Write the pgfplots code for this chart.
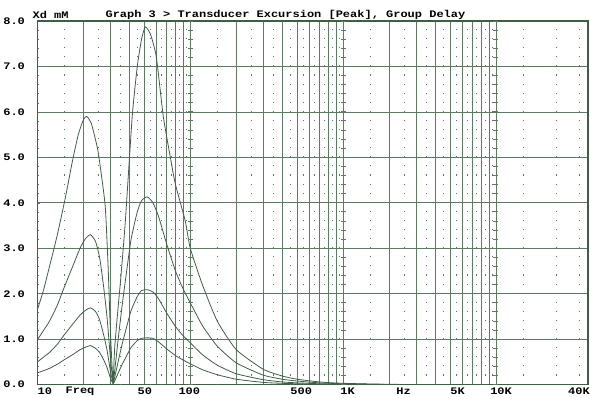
\documentclass[border=0pt]{standalone}
\usepackage{pgfplots}
\pgfplotsset{compat=1.18}
\usepackage{fontspec}
\newfontfamily\dm[FakeStretch=1.2]{Liberation Mono}
\definecolor{gridc}{HTML}{5E7A62}
\definecolor{curvec}{HTML}{3F5E46}
\definecolor{dotc}{HTML}{B8C0B8}
\begin{document}
\begin{tikzpicture}[font=\dm\bfseries\fontsize{10}{12}\selectfont]
\begin{axis}[
  name=ax,
  scale only axis,
  width=551pt, height=364pt,
  xmode=log,
  xmin=10, xmax=40000,
  ymin=0, ymax=8,
  xtick={10,100,1000,10000},
  xticklabels={},
  ytick={0,1,2,3,4,5,6,7,8},
  yticklabels={0.0,1.0,2.0,3.0,4.0,5.0,6.0,7.0,8.0},
  yticklabel style={font=\dm\bfseries\fontsize{10}{12}\selectfont, xshift=-9pt},
  minor y tick num=4,
  tick pos=left,
  tick align=inside,
  major tick length=3pt,
  minor tick length=2pt,
  tick style={gridc, line width=0.6pt},
  xmajorgrids=true, xminorgrids=true, ymajorgrids=true,
  major grid style={gridc, line width=0.8pt},
  minor grid style={gridc, line width=0.8pt},
  extra x ticks={15,25,35,45,55,65,75,85,95,150,250,350,450,550,650,750,850,950,1500,2500,3500,4500,5500,6500,7500,8500,9500,15000,25000,35000},
  extra x tick labels={},
  extra x tick style={grid style={dotc, line width=1.1pt, dash pattern=on 1.1pt off 8pt}, major tick length=0pt},
  axis line style={curvec, line width=1.3pt},
  clip=true,
]
\addplot[curvec, line width=0.8pt, smooth, tension=0.35] coordinates {
(10,1.65) (11,2.1) (12.2,2.7) (13.5,3.3) (15.2,4.1) (16.9,4.9) (18.5,5.5) (20,5.83) (21,5.9) (22.5,5.75) (24.7,5.2) (26,4.7) (27.8,3.9) (29,2.6) (30,1.2) (31.2,0.1) (32,0.8) (33.5,1.6) (35,2.3) (37.6,3.6) (41.7,5.9) (45,7.0) (48,7.6) (50.8,7.87) (55,7.7) (60,7.2) (66.6,5.9) (75,4.9) (80,4.4) (92.7,3.6) (100,3.0) (120,2.2) (150,1.4) (200,0.77) (300,0.34) (400,0.19) (500,0.12) (700,0.06) (1000,0.03) (2000,0.008) (5000,0.001) (40000,0)
};
\addplot[curvec, line width=0.8pt, smooth, tension=0.35] coordinates {
(10,0.99) (11,1.2) (12,1.4) (13.5,1.75) (15,2.15) (17,2.6) (19,3.0) (20.5,3.2) (22.2,3.3) (24,3.15) (25.5,2.8) (27,2.2) (28.5,1.5) (30,0.6) (31.3,0.08) (32.5,0.5) (34,1.1) (36,1.8) (38,2.4) (41,3.2) (45,3.8) (48,4.05) (52.3,4.13) (57,4.0) (62,3.7) (70,3.1) (80,2.5) (90,2.1) (100,1.8) (120,1.3) (150,0.85) (200,0.48) (300,0.21) (400,0.12) (500,0.08) (700,0.04) (1000,0.02) (2000,0.005) (5000,0.001) (40000,0)
};
\addplot[curvec, line width=0.8pt, smooth, tension=0.35] coordinates {
(10,0.50) (11,0.61) (12,0.71) (13.5,0.89) (15,1.10) (17,1.33) (19,1.53) (20.5,1.63) (22.2,1.69) (24,1.61) (25.5,1.43) (27,1.12) (28.5,0.77) (30,0.31) (31.3,0.04) (32.5,0.26) (34,0.56) (36,0.92) (38,1.22) (41,1.63) (45,1.94) (48,2.07) (52.3,2.09) (57,2.04) (62,1.89) (70,1.58) (80,1.28) (90,1.07) (100,0.92) (120,0.66) (150,0.43) (200,0.24) (300,0.11) (400,0.06) (500,0.04) (700,0.02) (1000,0.01) (2000,0.003) (5000,0.0005) (40000,0)
};
\addplot[curvec, line width=0.8pt, smooth, tension=0.35] coordinates {
(10,0.26) (11,0.31) (12,0.36) (13.5,0.45) (15,0.55) (17,0.66) (19,0.77) (20.5,0.82) (22.2,0.86) (24,0.80) (25.5,0.71) (27,0.56) (28.5,0.38) (30,0.15) (31.3,0.02) (32.5,0.13) (34,0.28) (36,0.46) (38,0.61) (41,0.82) (45,0.97) (48,1.02) (52.3,1.03) (57,1.02) (62,0.94) (70,0.79) (80,0.64) (90,0.54) (100,0.46) (120,0.33) (150,0.22) (200,0.12) (300,0.05) (400,0.03) (500,0.02) (700,0.01) (1000,0.005) (2000,0.001) (5000,0.0002) (40000,0)
};
\pgfplotsinvokeforeach{100,1000,10000}{
  \draw[gridc, line width=5pt, dash pattern=on 1pt off 8.1pt, dash phase=0.5pt] (axis cs:#1,0) -- (axis cs:#1,8);
}
\end{axis}
% labels (text only)
\path (ax.south west) ++(0pt,-7pt) node[anchor=west, inner sep=0pt] {10};
\path (ax.south west) ++(28pt,-7pt) node[anchor=west, inner sep=0pt] {Freq};
\path (ax.south west) ++(100pt,-7pt) node[anchor=west, inner sep=0pt] {50};
\path (ax.south west) ++(141pt,-7pt) node[anchor=west, inner sep=0pt] {100};
\path (ax.south west) ++(253pt,-7pt) node[anchor=west, inner sep=0pt] {500};
\path (ax.south west) ++(303pt,-7pt) node[anchor=west, inner sep=0pt] {1K};
\path (ax.south west) ++(359pt,-7pt) node[anchor=west, inner sep=0pt] {Hz};
\path (ax.south west) ++(413pt,-7pt) node[anchor=west, inner sep=0pt] {5K};
\path (ax.south west) ++(453pt,-7pt) node[anchor=west, inner sep=0pt] {10K};
\path (ax.south west) ++(531pt,-7pt) node[anchor=west, inner sep=0pt] {40K};
\path (ax.north west) ++(-5pt,6pt) node[anchor=west, inner sep=0pt] {Xd mM};
\path (ax.north west) ++(68pt,6pt) node[anchor=west, inner sep=0pt] {Graph 3 > Transducer Excursion [Peak], Group Delay};
\path[use as bounding box] ([xshift=-37pt,yshift=-13pt]ax.south west) rectangle ([xshift=2pt,yshift=21pt]ax.north east);
\end{tikzpicture}
\end{document}
